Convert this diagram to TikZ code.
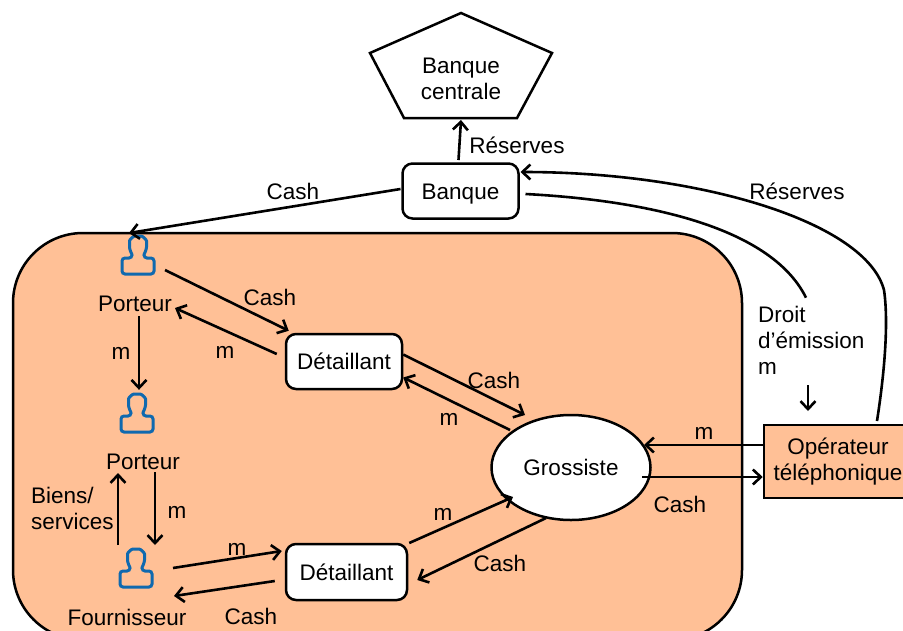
\documentclass[tikz,border=0pt]{standalone}
\usepackage{fontspec}
\setmainfont{Liberation Sans}
\usepackage{tikz}
\usetikzlibrary{positioning}
\usetikzlibrary{shapes.geometric}
\usetikzlibrary{arrows.meta}

\definecolor{zone}{RGB}{255,192,150}
\definecolor{iconblue}{RGB}{15,105,175}

\tikzset{
    link/.style={-{Straight Barb[length=8pt, width=15pt, line width=2.6pt]}, line width=2.6pt, black},
    curve/.style={line width=2.6pt, black},
    actor/.style={draw=black, line width=2.5pt, fill=white, rounded corners=10pt, minimum width=116pt, minimum height=55pt, inner sep=0pt, text height=16pt, text depth=0pt},
    lbl/.style={inner sep=0pt, align=center},
    iconbox/.style={minimum width=34pt, minimum height=42pt, inner sep=0pt},
    person/.pic={
        \draw[iconblue, line width=3pt, rounded corners=3pt] (-6,3) .. controls (-6,-1) and (-8.5,-5) .. (-8.5,-11)
            .. controls (-8.5,-15.5) and (-4.5,-19) .. (0,-19) .. controls (4.5,-19) and (8.5,-15.5) .. (8.5,-11)
            .. controls (8.5,-5) and (6,-1) .. (6,3) -- (16,3) -- (16,19) -- (-16,19) -- (-16,3) -- cycle;
    }
}

\begin{document}
\begin{tikzpicture}[x=1pt, y=-1pt, font=\fontsize{22.5}{26}\selectfont]
    \useasboundingbox (0,0) rectangle (903,630);
    \clip (0,0) rectangle (903,630);

    % Zone
    \draw[black, line width=2.5pt, fill=zone, rounded corners=70pt] (13,233) rectangle (742,640);

    % Bodies
    \coordinate (pentTop) at (461,13);
    \coordinate (pentRight) at (552,53);
    \coordinate (pentLowR) at (517,118);
    \coordinate (pentLowL) at (404,118);
    \coordinate (pentLeft) at (370,53);
    \draw[black, line width=2.5pt, fill=white] (pentTop) -- (pentRight) -- (pentLowR) -- (pentLowL) -- (pentLeft) -- cycle;
    \node[lbl] (central) at (461,79) {Banque\\centrale};
    \node[actor] (banque) at (460.5,191) {Banque};
    \node[actor] (detailA) at (344,361.5) {Détaillant};
    \node[actor, minimum width=121pt, minimum height=56pt] (detailB) at (346.5,572) {Détaillant};
    \node[draw=black, line width=2.5pt, fill=white, ellipse, minimum width=159pt, minimum height=105pt, inner sep=0pt, text height=16pt, text depth=0pt] (grossiste) at (571,467.5) {Grossiste};
    \node[draw=black, line width=2.5pt, fill=zone, minimum width=148pt, minimum height=73pt, inner sep=0pt, text width=148pt, align=center] (operateur) at (838,461.5) {Opérateur\\téléphonique};

    % Persons
    \node[iconbox] (iconA) at (138,255) {};
    \node[iconbox] (iconB) at (137,413) {};
    \node[iconbox] (iconC) at (136,568) {};
    \pic at (iconA.center) {person};
    \pic at (iconB.center) {person};
    \pic at (iconC.center) {person};

    % Labels
    \node[lbl] (porteurA) at (135,304) {Porteur};
    \node[lbl] (porteurB) at (143,462) {Porteur};
    \node[lbl] (fournisseur) at (127,617) {Fournisseur};
    \node[lbl, align=left, anchor=west] (biens) at (31,508) {Biens/\\services};
    \node[lbl, align=left, anchor=west] (droit) at (758,340) {Droit\\d’émission\\m};
    \node[lbl] (reservesA) at (517,145) {Réserves};
    \node[lbl] (reservesB) at (797,191) {Réserves};
    \node[lbl] (cashA) at (293,191) {Cash};
    \node[lbl] (cashB) at (270,297) {Cash};
    \node[lbl] (cashC) at (494,380) {Cash};
    \node[lbl] (cashD) at (680,504) {Cash};
    \node[lbl] (cashE) at (500,563) {Cash};
    \node[lbl] (cashF) at (251,616) {Cash};
    \node[lbl] (mA) at (121,353) {m};
    \node[lbl] (mB) at (225,352) {m};
    \node[lbl] (mC) at (449,419) {m};
    \node[lbl] (mD) at (704,433) {m};
    \node[lbl] (mE) at (443,514) {m};
    \node[lbl] (mF) at (177,512) {m};
    \node[lbl] (mG) at (237,549) {m};

    % Upper links
    \draw[link] ([shift={(-2,-31)}]banque.center) -- ([yshift=-2pt]pentLowL -| central);
    \draw[link] ([shift={(-60,-2)}]banque.center) -- ([shift={(-9,-22)}]iconA.center);
    \draw[link] ([shift={(39,-40.5)}]operateur.center) .. controls (888,350) and (887,310) .. (884,290)
        .. controls (866,222) and (700,172) .. ([shift={(60,-19)}]banque.center);
    \draw[curve] ([shift={(65,3)}]banque.center) .. controls (640,200) and (770,225) .. ([shift={(48,-8)}]droit.north west);
    \draw[link] ([shift={(-30,-76.5)}]operateur.center) -- ([shift={(-30,-50.5)}]operateur.center);

    % Left links
    \draw[link] ([shift={(27,15)}]iconA.center) -- ([shift={(4,-2)}]detailA.north west);
    \draw[link] ([shift={(-8,-7.5)}]detailA.west) -- ([shift={(40,4)}]porteurA.center);
    \draw[link] ([shift={(4,12)}]porteurA.center) -- ([shift={(2,-2)}]iconB.north);
    \draw[link] ([shift={(-18,-23)}]iconC.center) -- ([shift={(-25,11)}]porteurB.center);
    \draw[link] ([shift={(12,10)}]porteurB.center) -- ([shift={(19,-23)}]iconC.center);
    \draw[link] ([shift={(37,0)}]iconC.center) -- ([shift={(-3,-21)}]detailB.west);
    \draw[link] ([shift={(-10,9)}]detailB.west) -- ([shift={(38,28)}]iconC.center);

    % Links around grossiste
    \draw[link] ([shift={(0,-7)}]detailA.east) -- ([shift={(-46,-52.5)}]grossiste.center);
    \draw[link] ([shift={(-61,-37.5)}]grossiste.center) -- ([shift={(0,16)}]detailA.east);
    \draw[link] ([shift={(1,-29)}]detailB.east) -- ([shift={(-58,29.5)}]grossiste.center);
    \draw[link] ([shift={(-25,50.5)}]grossiste.center) -- ([shift={(9,8)}]detailB.east);
    \draw[link] ([shift={(0,-16.5)}]operateur.west) -- ([shift={(73,-22.5)}]grossiste.center);
    \draw[link] ([shift={(71,9.5)}]grossiste.center) -- ([shift={(0,15.5)}]operateur.west);
\end{tikzpicture}
\end{document}
